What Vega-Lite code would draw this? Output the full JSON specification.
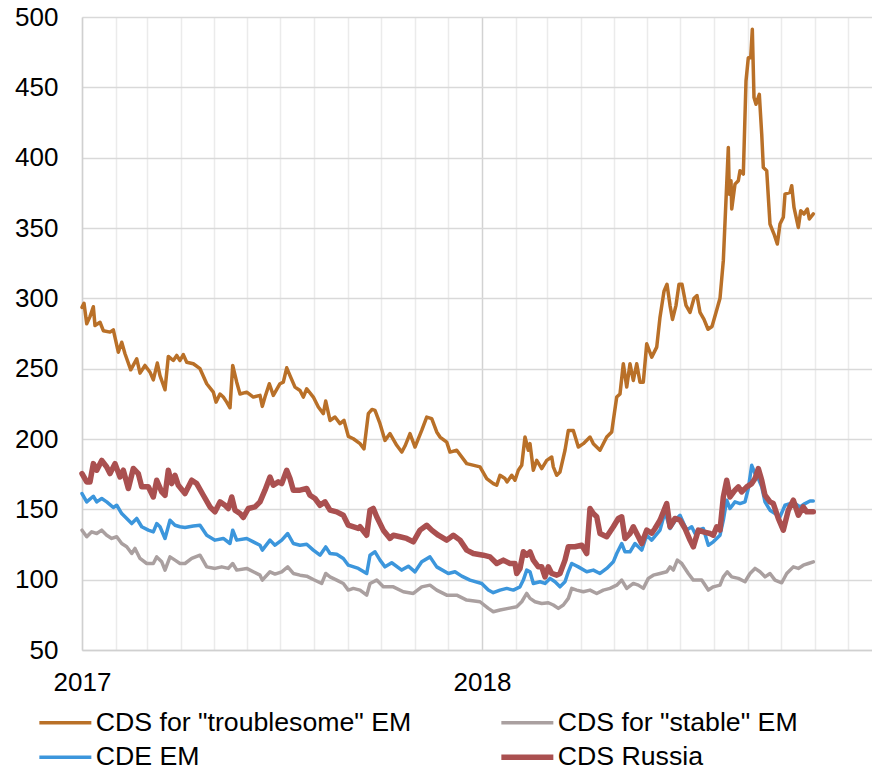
{
  "$schema": "https://vega.github.io/schema/vega-lite/v6.json",
  "width": 790,
  "height": 633,
  "autosize": {"type": "none"},
  "padding": {"left": 82, "top": 17, "right": 0, "bottom": 119},
  "background": "white",
  "config": {
    "view": {"stroke": null},
    "font": "Liberation Sans"
  },
  "title": {
    "text": "CDS of emerging economies, bp",
    "anchor": "start",
    "frame": "group",
    "dx": 38,
    "dy": 4,
    "offset": 0,
    "baseline": "bottom",
    "font": "Liberation Sans",
    "fontSize": 25,
    "fontWeight": "bold",
    "color": "#000000"
  },
  "encoding": {
    "x": {
      "field": "t",
      "type": "quantitative",
      "scale": {"domain": [2017, 2018.975], "nice": false, "zero": false},
      "axis": {
        "title": null,
        "values": [2017, 2017.0849, 2017.1616, 2017.2466, 2017.3288, 2017.4137, 2017.4959, 2017.5808, 2017.6658, 2017.7479, 2017.8329, 2017.9151, 2018, 2018.0849, 2018.1616, 2018.2466, 2018.3288, 2018.4137, 2018.4959, 2018.5808, 2018.6658, 2018.7479, 2018.8329, 2018.9151],
        "tickCount": 40,
        "format": ".4f",
        "labelExpr": "abs(datum.value - 2018) < 0.001 ? '2018' : (abs(datum.value - 2017) < 0.001 ? '2017' : '')",
        "labelFlush": false,
        "labelOverlap": false,
        "labelFont": "Liberation Sans",
        "labelFontSize": 26,
        "labelColor": "#000000",
        "labelPadding": 19,
        "ticks": false,
        "tickSize": 0,
        "domainColor": "#d0d0d0",
        "domainWidth": 1.5,
        "grid": true,
        "gridColor": {"condition": {"test": "abs(datum.value - 2018) < 0.001", "value": "#d2d2d2"}, "value": "#ebebeb"},
        "gridWidth": 1.5
      }
    },
    "y": {
      "field": "v",
      "type": "quantitative",
      "scale": {"domain": [50, 500], "nice": false, "zero": false},
      "axis": {
        "title": null,
        "values": [50, 100, 150, 200, 250, 300, 350, 400, 450, 500],
        "labelFont": "Liberation Sans",
        "labelFontSize": 26,
        "labelColor": "#000000",
        "labelPadding": 24,
        "ticks": false,
        "tickSize": 0,
        "domainColor": "#d0d0d0",
        "domainWidth": 1.5,
        "grid": true,
        "gridColor": "#d9d9d9",
        "gridWidth": 1.5
      }
    }
  },
  "layer": [
    {
      "data": {"values": [
        {"t":2017.0000,"v":293.6},{"t":2017.0050,"v":296.5},{"t":2017.0118,"v":281.9},{"t":2017.0200,"v":287},{"t":2017.0283,"v":294},{"t":2017.0325,"v":280.7},{"t":2017.0450,"v":283},{"t":2017.0533,"v":277},{"t":2017.0700,"v":276},{"t":2017.0783,"v":277.6},{"t":2017.0908,"v":261.7},{"t":2017.0993,"v":268.8},{"t":2017.1075,"v":260.6},{"t":2017.1218,"v":249.2},{"t":2017.1368,"v":257},{"t":2017.1450,"v":246.8},{"t":2017.1575,"v":252.3},{"t":2017.1700,"v":247.5},{"t":2017.1783,"v":242},{"t":2017.1883,"v":254},{"t":2017.1950,"v":245},{"t":2017.2075,"v":235},{"t":2017.2158,"v":258.7},{"t":2017.2283,"v":255.8},{"t":2017.2368,"v":259.4},{"t":2017.2450,"v":255.8},{"t":2017.2533,"v":260},{"t":2017.2618,"v":254.6},{"t":2017.2783,"v":253.5},{"t":2017.2950,"v":250},{"t":2017.3118,"v":239.3},{"t":2017.3283,"v":233.3},{"t":2017.3350,"v":226.2},{"t":2017.3450,"v":232},{"t":2017.3533,"v":229.8},{"t":2017.3618,"v":226.2},{"t":2017.3700,"v":222.2},{"t":2017.3768,"v":252.3},{"t":2017.3868,"v":240.4},{"t":2017.3950,"v":232},{"t":2017.4118,"v":233.3},{"t":2017.4283,"v":229.8},{"t":2017.4450,"v":231},{"t":2017.4508,"v":223.2},{"t":2017.4575,"v":229.8},{"t":2017.4683,"v":239.3},{"t":2017.4783,"v":231},{"t":2017.4950,"v":239.3},{"t":2017.5033,"v":240.4},{"t":2017.5118,"v":250.6},{"t":2017.5200,"v":245},{"t":2017.5325,"v":236.9},{"t":2017.5450,"v":234.5},{"t":2017.5533,"v":229.8},{"t":2017.5618,"v":235.7},{"t":2017.5783,"v":229.8},{"t":2017.5908,"v":222.7},{"t":2017.6033,"v":218},{"t":2017.6093,"v":227},{"t":2017.6200,"v":213.2},{"t":2017.6325,"v":215.6},{"t":2017.6450,"v":210.9},{"t":2017.6550,"v":213.2},{"t":2017.6658,"v":201.9},{"t":2017.6783,"v":200.2},{"t":2017.6950,"v":196.7},{"t":2017.7050,"v":193},{"t":2017.7158,"v":218},{"t":2017.7250,"v":221},{"t":2017.7325,"v":220.3},{"t":2017.7450,"v":210.9},{"t":2017.7575,"v":199},{"t":2017.7700,"v":203.8},{"t":2017.7868,"v":195.5},{"t":2017.7993,"v":190.7},{"t":2017.8075,"v":195},{"t":2017.8200,"v":203.8},{"t":2017.8325,"v":194.3},{"t":2017.8493,"v":206.1},{"t":2017.8618,"v":215.6},{"t":2017.8743,"v":214.5},{"t":2017.8868,"v":205},{"t":2017.8950,"v":201.4},{"t":2017.9118,"v":197.8},{"t":2017.9200,"v":190.7},{"t":2017.9368,"v":192},{"t":2017.9618,"v":182.5},{"t":2017.9950,"v":180.2},{"t":2018.0118,"v":171.9},{"t":2018.0283,"v":168.3},{"t":2018.0368,"v":167.1},{"t":2018.0450,"v":174.2},{"t":2018.0575,"v":171.9},{"t":2018.0625,"v":169.5},{"t":2018.0743,"v":174.2},{"t":2018.0825,"v":170.7},{"t":2018.0908,"v":177.8},{"t":2018.0993,"v":181.3},{"t":2018.1075,"v":201.4},{"t":2018.1158,"v":192},{"t":2018.1200,"v":196.7},{"t":2018.1283,"v":177.8},{"t":2018.1368,"v":184.8},{"t":2018.1493,"v":179},{"t":2018.1618,"v":184.8},{"t":2018.1743,"v":187.2},{"t":2018.1783,"v":180.2},{"t":2018.1868,"v":174.2},{"t":2018.1950,"v":176.6},{"t":2018.2075,"v":192},{"t":2018.2158,"v":206.1},{"t":2018.2283,"v":206.1},{"t":2018.2408,"v":194.3},{"t":2018.2533,"v":196.7},{"t":2018.2700,"v":201.4},{"t":2018.2783,"v":196.7},{"t":2018.2950,"v":192},{"t":2018.3118,"v":201.4},{"t":2018.3243,"v":205},{"t":2018.3283,"v":213.2},{"t":2018.3368,"v":229.8},{"t":2018.3450,"v":232},{"t":2018.3533,"v":253.5},{"t":2018.3618,"v":236.9},{"t":2018.3700,"v":253.5},{"t":2018.3783,"v":241.6},{"t":2018.3868,"v":253.5},{"t":2018.3950,"v":240.4},{"t":2018.4033,"v":240.4},{"t":2018.4118,"v":267.7},{"t":2018.4243,"v":258.2},{"t":2018.4368,"v":265.3},{"t":2018.4450,"v":286.6},{"t":2018.4550,"v":305},{"t":2018.4625,"v":310},{"t":2018.4700,"v":295},{"t":2018.4763,"v":285},{"t":2018.4850,"v":295},{"t":2018.4925,"v":310},{"t":2018.5000,"v":310},{"t":2018.5100,"v":295},{"t":2018.5200,"v":290},{"t":2018.5300,"v":300},{"t":2018.5375,"v":302},{"t":2018.5450,"v":290},{"t":2018.5550,"v":285},{"t":2018.5650,"v":278},{"t":2018.5750,"v":280},{"t":2018.5850,"v":290},{"t":2018.5950,"v":300},{"t":2018.6033,"v":326.8},{"t":2018.6158,"v":407.2},{"t":2018.6183,"v":374},{"t":2018.6225,"v":383.6},{"t":2018.6243,"v":363.5},{"t":2018.6325,"v":381.2},{"t":2018.6408,"v":383.6},{"t":2018.6450,"v":390.7},{"t":2018.6533,"v":388.3},{"t":2018.6600,"v":454.5},{"t":2018.6658,"v":471.1},{"t":2018.6718,"v":471.1},{"t":2018.6758,"v":491.3},{"t":2018.6800,"v":442.7},{"t":2018.6850,"v":438},{"t":2018.6933,"v":445},{"t":2018.6993,"v":416.7},{"t":2018.7033,"v":393},{"t":2018.7118,"v":390.7},{"t":2018.7200,"v":352.8},{"t":2018.7300,"v":345.7},{"t":2018.7383,"v":338.6},{"t":2018.7450,"v":352.8},{"t":2018.7533,"v":357.6},{"t":2018.7575,"v":374.1},{"t":2018.7700,"v":375.3},{"t":2018.7743,"v":380},{"t":2018.7800,"v":364.6},{"t":2018.7908,"v":350.4},{"t":2018.7968,"v":362.3},{"t":2018.8050,"v":359.9},{"t":2018.8133,"v":363.5},{"t":2018.8183,"v":356.4},{"t":2018.8283,"v":360}
      ]},
      "mark": {"type": "line", "strokeWidth": 3.5, "strokeJoin": "round", "strokeCap": "round"},
      "encoding": {
        "color": {
          "datum": "CDS for \"troublesome\" EM",
          "scale": {
            "domain": ["CDS for \"troublesome\" EM", "CDE EM", "CDS for \"stable\" EM", "CDS Russia"],
            "range": ["#b97028", "#3c96dc", "#aaa0a0", "#aa5050"]
          },
          "legend": {
            "title": null,
            "orient": "none",
            "direction": "vertical",
            "legendX": -30,
            "legendY": 692,
            "columns": 2,
            "columnPadding": 78,
            "rowPadding": 7,
            "padding": 0,
            "symbolType": "stroke",
            "symbolSize": 2704,
            "symbolStrokeWidth": 3.5,
            "labelFont": "Liberation Sans",
            "labelFontSize": 26.7,
            "labelColor": "#000000",
            "labelOffset": 17,
            "labelLimit": 0,
            "encode": {"symbols": {"update": {"strokeWidth": {"signal": "datum.value === 'CDS Russia' ? 5.5 : 3.5"}}}}
          }
        }
      }
    },
    {
      "data": {"values": [
        {"t":2017.0000,"v":135.2},{"t":2017.0118,"v":130.5},{"t":2017.0243,"v":134},{"t":2017.0368,"v":132.8},{"t":2017.0493,"v":135.2},{"t":2017.0618,"v":131.6},{"t":2017.0743,"v":129.3},{"t":2017.0868,"v":130.5},{"t":2017.0993,"v":125.7},{"t":2017.1118,"v":123.4},{"t":2017.1243,"v":118.6},{"t":2017.1325,"v":122.2},{"t":2017.1450,"v":115.1},{"t":2017.1618,"v":111.5},{"t":2017.1783,"v":111.5},{"t":2017.1868,"v":116.2},{"t":2017.1993,"v":112.7},{"t":2017.2075,"v":106.8},{"t":2017.2200,"v":116.2},{"t":2017.2325,"v":113.9},{"t":2017.2450,"v":111.5},{"t":2017.2575,"v":111.5},{"t":2017.2743,"v":115.1},{"t":2017.2950,"v":117.4},{"t":2017.3118,"v":109.1},{"t":2017.3325,"v":108},{"t":2017.3493,"v":109.1},{"t":2017.3658,"v":108},{"t":2017.3768,"v":111.5},{"t":2017.3868,"v":106.8},{"t":2017.4118,"v":108},{"t":2017.4283,"v":105.6},{"t":2017.4450,"v":103.2},{"t":2017.4508,"v":99.7},{"t":2017.4700,"v":105.6},{"t":2017.4825,"v":104},{"t":2017.4993,"v":105.6},{"t":2017.5143,"v":109.1},{"t":2017.5283,"v":104.4},{"t":2017.5450,"v":103.2},{"t":2017.5618,"v":102.5},{"t":2017.5783,"v":100.1},{"t":2017.5993,"v":97.3},{"t":2017.6093,"v":104.4},{"t":2017.6200,"v":102},{"t":2017.6368,"v":99.7},{"t":2017.6533,"v":97.3},{"t":2017.6658,"v":92.6},{"t":2017.6783,"v":93.8},{"t":2017.6950,"v":92.6},{"t":2017.7118,"v":89},{"t":2017.7200,"v":97.3},{"t":2017.7368,"v":99.7},{"t":2017.7533,"v":94.9},{"t":2017.7783,"v":94.9},{"t":2017.8033,"v":91.4},{"t":2017.8283,"v":90.2},{"t":2017.8493,"v":94.9},{"t":2017.8700,"v":96.1},{"t":2017.8868,"v":92.6},{"t":2017.9118,"v":89},{"t":2017.9368,"v":89},{"t":2017.9618,"v":85.5},{"t":2017.9950,"v":84.3},{"t":2018.0158,"v":79.6},{"t":2018.0283,"v":77.2},{"t":2018.0450,"v":78.4},{"t":2018.0658,"v":79.6},{"t":2018.0868,"v":80.7},{"t":2018.0993,"v":84.3},{"t":2018.1118,"v":90.2},{"t":2018.1200,"v":86.7},{"t":2018.1325,"v":84.3},{"t":2018.1493,"v":83.1},{"t":2018.1658,"v":83.6},{"t":2018.1783,"v":82},{"t":2018.1908,"v":79.6},{"t":2018.2033,"v":82},{"t":2018.2158,"v":86.7},{"t":2018.2243,"v":93.8},{"t":2018.2368,"v":92.6},{"t":2018.2533,"v":91.4},{"t":2018.2700,"v":92.6},{"t":2018.2868,"v":90.2},{"t":2018.3033,"v":92.6},{"t":2018.3200,"v":93.8},{"t":2018.3368,"v":96.1},{"t":2018.3493,"v":99.7},{"t":2018.3618,"v":93.8},{"t":2018.3783,"v":97.3},{"t":2018.3908,"v":96.1},{"t":2018.4033,"v":93.8},{"t":2018.4158,"v":100.9},{"t":2018.4283,"v":103.2},{"t":2018.4450,"v":104.4},{"t":2018.4618,"v":105.6},{"t":2018.4700,"v":109.1},{"t":2018.4783,"v":106.8},{"t":2018.4883,"v":113.9},{"t":2018.4993,"v":111.5},{"t":2018.5158,"v":104.4},{"t":2018.5283,"v":99.7},{"t":2018.5493,"v":99.7},{"t":2018.5658,"v":92.6},{"t":2018.5783,"v":94.9},{"t":2018.5950,"v":96.1},{"t":2018.6033,"v":102},{"t":2018.6133,"v":105.6},{"t":2018.6243,"v":102},{"t":2018.6408,"v":100.9},{"t":2018.6575,"v":98.5},{"t":2018.6700,"v":104.4},{"t":2018.6825,"v":108},{"t":2018.6950,"v":105.6},{"t":2018.7075,"v":102},{"t":2018.7200,"v":104.4},{"t":2018.7325,"v":99.7},{"t":2018.7493,"v":97.8},{"t":2018.7618,"v":104.4},{"t":2018.7783,"v":109.1},{"t":2018.7908,"v":108},{"t":2018.8033,"v":110.3},{"t":2018.8158,"v":111.5},{"t":2018.8283,"v":112.7}
      ]},
      "mark": {"type": "line", "strokeWidth": 3.5, "strokeJoin": "round", "strokeCap": "round"},
      "encoding": {"color": {"datum": "CDS for \"stable\" EM"}}
    },
    {
      "data": {"values": [
        {"t":2017.0000,"v":161.2},{"t":2017.0118,"v":155.3},{"t":2017.0283,"v":159.3},{"t":2017.0368,"v":155.3},{"t":2017.0493,"v":157.7},{"t":2017.0618,"v":155.3},{"t":2017.0783,"v":151.3},{"t":2017.0868,"v":152.9},{"t":2017.0993,"v":147},{"t":2017.1118,"v":143.5},{"t":2017.1243,"v":139.9},{"t":2017.1368,"v":143.5},{"t":2017.1493,"v":137.6},{"t":2017.1658,"v":135.2},{"t":2017.1783,"v":134},{"t":2017.1868,"v":139.9},{"t":2017.1950,"v":137.6},{"t":2017.2075,"v":129.3},{"t":2017.2200,"v":142.3},{"t":2017.2325,"v":138.7},{"t":2017.2450,"v":137.6},{"t":2017.2575,"v":137.1},{"t":2017.2783,"v":138.1},{"t":2017.2950,"v":138.7},{"t":2017.3118,"v":131.6},{"t":2017.3325,"v":128.1},{"t":2017.3533,"v":129.3},{"t":2017.3700,"v":125.7},{"t":2017.3768,"v":135.2},{"t":2017.3868,"v":128.1},{"t":2017.4118,"v":129.3},{"t":2017.4283,"v":126.9},{"t":2017.4450,"v":124.5},{"t":2017.4508,"v":121},{"t":2017.4700,"v":128.1},{"t":2017.4825,"v":124.5},{"t":2017.4993,"v":128.1},{"t":2017.5143,"v":132.8},{"t":2017.5283,"v":125.7},{"t":2017.5450,"v":124.5},{"t":2017.5618,"v":125.2},{"t":2017.5783,"v":121},{"t":2017.5950,"v":117.4},{"t":2017.6093,"v":123.3},{"t":2017.6200,"v":118.6},{"t":2017.6368,"v":118.1},{"t":2017.6533,"v":115.1},{"t":2017.6658,"v":110.3},{"t":2017.6908,"v":108},{"t":2017.7118,"v":104.4},{"t":2017.7200,"v":117.4},{"t":2017.7325,"v":119.8},{"t":2017.7450,"v":113.9},{"t":2017.7575,"v":109.1},{"t":2017.7743,"v":112},{"t":2017.7993,"v":106.8},{"t":2017.8158,"v":109.6},{"t":2017.8325,"v":105.6},{"t":2017.8493,"v":112.7},{"t":2017.8700,"v":116.2},{"t":2017.8868,"v":109.1},{"t":2017.9158,"v":104.4},{"t":2017.9325,"v":105.6},{"t":2017.9493,"v":102.5},{"t":2017.9700,"v":99.7},{"t":2017.9993,"v":97.3},{"t":2018.0158,"v":92.6},{"t":2018.0283,"v":90.7},{"t":2018.0450,"v":92.6},{"t":2018.0618,"v":93.8},{"t":2018.0783,"v":92.6},{"t":2018.0950,"v":94.9},{"t":2018.1033,"v":99.7},{"t":2018.1118,"v":106.8},{"t":2018.1200,"v":105.6},{"t":2018.1283,"v":97.3},{"t":2018.1450,"v":98.5},{"t":2018.1575,"v":97.3},{"t":2018.1700,"v":100.9},{"t":2018.1825,"v":98.5},{"t":2018.1950,"v":94.9},{"t":2018.2075,"v":98.5},{"t":2018.2158,"v":105.6},{"t":2018.2243,"v":111.5},{"t":2018.2408,"v":109.1},{"t":2018.2618,"v":105.6},{"t":2018.2783,"v":106.8},{"t":2018.2950,"v":104.4},{"t":2018.3118,"v":108},{"t":2018.3283,"v":112.7},{"t":2018.3368,"v":118.6},{"t":2018.3493,"v":125.7},{"t":2018.3575,"v":119.8},{"t":2018.3700,"v":119.8},{"t":2018.3825,"v":125.7},{"t":2018.3908,"v":123.4},{"t":2018.3993,"v":121},{"t":2018.4118,"v":131.6},{"t":2018.4243,"v":128.1},{"t":2018.4450,"v":135.2},{"t":2018.4575,"v":148.2},{"t":2018.4700,"v":136.4},{"t":2018.4868,"v":143.5},{"t":2018.4950,"v":145.8},{"t":2018.5118,"v":135.2},{"t":2018.5243,"v":137.6},{"t":2018.5325,"v":132.8},{"t":2018.5408,"v":135.2},{"t":2018.5533,"v":136.4},{"t":2018.5658,"v":124.5},{"t":2018.5783,"v":126.9},{"t":2018.5950,"v":131.6},{"t":2018.6033,"v":142.3},{"t":2018.6118,"v":156.5},{"t":2018.6200,"v":150.6},{"t":2018.6325,"v":155.3},{"t":2018.6450,"v":154.1},{"t":2018.6575,"v":155.3},{"t":2018.6658,"v":164.8},{"t":2018.6743,"v":181.3},{"t":2018.6825,"v":175.4},{"t":2018.6908,"v":171.9},{"t":2018.6993,"v":166},{"t":2018.7075,"v":155.3},{"t":2018.7200,"v":149.4},{"t":2018.7325,"v":147},{"t":2018.7450,"v":144.7},{"t":2018.7575,"v":152.9},{"t":2018.7700,"v":154.1},{"t":2018.7825,"v":154.1},{"t":2018.7950,"v":151.7},{"t":2018.8075,"v":154.1},{"t":2018.8200,"v":155.9},{"t":2018.8283,"v":155.9}
      ]},
      "mark": {"type": "line", "strokeWidth": 3.5, "strokeJoin": "round", "strokeCap": "round"},
      "encoding": {"color": {"datum": "CDE EM"}}
    },
    {
      "data": {"values": [
        {"t":2017.0000,"v":175.4},{"t":2017.0118,"v":169.5},{"t":2017.0200,"v":169.5},{"t":2017.0283,"v":182.5},{"t":2017.0368,"v":177.8},{"t":2017.0493,"v":184.8},{"t":2017.0618,"v":180.1},{"t":2017.0700,"v":175.4},{"t":2017.0825,"v":182.5},{"t":2017.0950,"v":173},{"t":2017.1033,"v":177.8},{"t":2017.1158,"v":164.8},{"t":2017.1283,"v":179},{"t":2017.1408,"v":175.4},{"t":2017.1493,"v":166},{"t":2017.1658,"v":166},{"t":2017.1783,"v":158.8},{"t":2017.1868,"v":170.7},{"t":2017.1993,"v":162.4},{"t":2017.2075,"v":160},{"t":2017.2158,"v":177.8},{"t":2017.2243,"v":168.3},{"t":2017.2325,"v":174.2},{"t":2017.2408,"v":167.1},{"t":2017.2575,"v":161.2},{"t":2017.2743,"v":170.7},{"t":2017.2868,"v":168.3},{"t":2017.3033,"v":160},{"t":2017.3200,"v":151.7},{"t":2017.3325,"v":148.2},{"t":2017.3450,"v":155.3},{"t":2017.3575,"v":152.9},{"t":2017.3658,"v":150.6},{"t":2017.3743,"v":158.8},{"t":2017.3825,"v":149.4},{"t":2017.3950,"v":147},{"t":2017.4033,"v":144.2},{"t":2017.4158,"v":150.6},{"t":2017.4325,"v":151.7},{"t":2017.4450,"v":155.3},{"t":2017.4575,"v":163.6},{"t":2017.4700,"v":173},{"t":2017.4783,"v":167.1},{"t":2017.4908,"v":169.5},{"t":2017.4993,"v":168.3},{"t":2017.5118,"v":177.8},{"t":2017.5200,"v":171.9},{"t":2017.5283,"v":163.6},{"t":2017.5450,"v":163.6},{"t":2017.5618,"v":164.8},{"t":2017.5700,"v":160},{"t":2017.5825,"v":157.7},{"t":2017.5950,"v":152.9},{"t":2017.6075,"v":155.3},{"t":2017.6200,"v":149.4},{"t":2017.6368,"v":148.2},{"t":2017.6533,"v":145.8},{"t":2017.6658,"v":138.7},{"t":2017.6908,"v":136.4},{"t":2017.6950,"v":137.6},{"t":2017.7118,"v":131.6},{"t":2017.7200,"v":149.4},{"t":2017.7283,"v":150.6},{"t":2017.7368,"v":144.7},{"t":2017.7533,"v":135.2},{"t":2017.7700,"v":129.3},{"t":2017.7783,"v":131.6},{"t":2017.7950,"v":130.5},{"t":2017.8118,"v":129.3},{"t":2017.8283,"v":126.9},{"t":2017.8450,"v":135.2},{"t":2017.8618,"v":138.7},{"t":2017.8743,"v":135.2},{"t":2017.8908,"v":131.6},{"t":2017.9118,"v":128.1},{"t":2017.9283,"v":131.6},{"t":2017.9450,"v":128.1},{"t":2017.9618,"v":121},{"t":2017.9783,"v":118.6},{"t":2018.0033,"v":117.4},{"t":2018.0200,"v":116.2},{"t":2018.0368,"v":111.5},{"t":2018.0533,"v":113.9},{"t":2018.0700,"v":111.5},{"t":2018.0825,"v":111.5},{"t":2018.0868,"v":104.4},{"t":2018.0950,"v":108},{"t":2018.1033,"v":119.8},{"t":2018.1118,"v":117.4},{"t":2018.1200,"v":119.8},{"t":2018.1283,"v":113.9},{"t":2018.1408,"v":109.1},{"t":2018.1493,"v":109.1},{"t":2018.1575,"v":102},{"t":2018.1658,"v":109.1},{"t":2018.1743,"v":104.4},{"t":2018.1868,"v":103.2},{"t":2018.1950,"v":104.4},{"t":2018.2075,"v":113.9},{"t":2018.2158,"v":123.4},{"t":2018.2325,"v":123.4},{"t":2018.2493,"v":124.5},{"t":2018.2618,"v":118.6},{"t":2018.2700,"v":150.6},{"t":2018.2783,"v":147},{"t":2018.2868,"v":144.7},{"t":2018.2950,"v":132.8},{"t":2018.3118,"v":130.5},{"t":2018.3283,"v":137.6},{"t":2018.3408,"v":143.5},{"t":2018.3493,"v":144.7},{"t":2018.3575,"v":129.3},{"t":2018.3700,"v":132.8},{"t":2018.3783,"v":137.6},{"t":2018.3868,"v":132.8},{"t":2018.3993,"v":125.7},{"t":2018.4118,"v":135.2},{"t":2018.4243,"v":133},{"t":2018.4325,"v":136.4},{"t":2018.4450,"v":142.3},{"t":2018.4618,"v":154.1},{"t":2018.4700,"v":137.6},{"t":2018.4825,"v":143.5},{"t":2018.4950,"v":142.3},{"t":2018.5075,"v":136.4},{"t":2018.5200,"v":128.1},{"t":2018.5283,"v":123.3},{"t":2018.5408,"v":135.2},{"t":2018.5533,"v":134},{"t":2018.5700,"v":132.8},{"t":2018.5783,"v":131.6},{"t":2018.5868,"v":137.6},{"t":2018.5950,"v":135.2},{"t":2018.6033,"v":158.8},{"t":2018.6118,"v":170.7},{"t":2018.6200,"v":158.8},{"t":2018.6325,"v":163.6},{"t":2018.6408,"v":166},{"t":2018.6493,"v":162.4},{"t":2018.6618,"v":166},{"t":2018.6743,"v":168.3},{"t":2018.6825,"v":171.9},{"t":2018.6908,"v":179},{"t":2018.6993,"v":170.7},{"t":2018.7075,"v":160},{"t":2018.7200,"v":155.3},{"t":2018.7283,"v":154.1},{"t":2018.7408,"v":143.5},{"t":2018.7533,"v":135.2},{"t":2018.7658,"v":149.4},{"t":2018.7783,"v":156.5},{"t":2018.7908,"v":145.8},{"t":2018.8033,"v":151.7},{"t":2018.8118,"v":148.2},{"t":2018.8283,"v":148.2}
      ]},
      "mark": {"type": "line", "strokeWidth": 5.5, "strokeJoin": "round", "strokeCap": "round"},
      "encoding": {"color": {"datum": "CDS Russia"}}
    }
  ]
}
